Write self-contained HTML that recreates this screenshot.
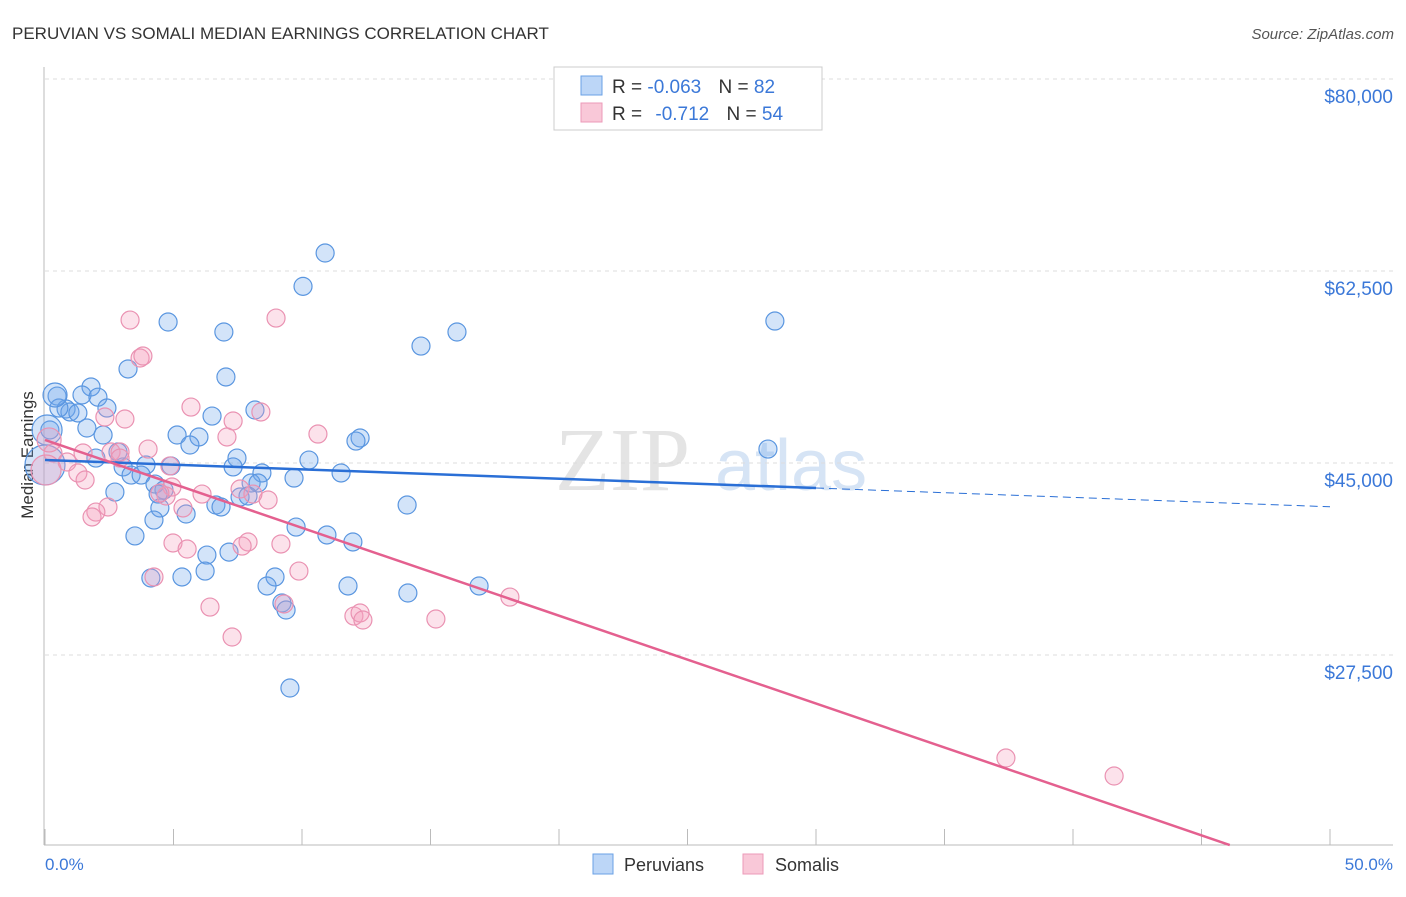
<!DOCTYPE html>
<html><head><meta charset="utf-8"><style>
body{margin:0;background:#fff;font-family:"Liberation Sans",sans-serif}
</style></head><body>
<svg id="chart" width="1406" height="892" xmlns="http://www.w3.org/2000/svg" font-family="Liberation Sans, sans-serif">
<text x="12" y="39" font-size="17" fill="#333">PERUVIAN VS SOMALI MEDIAN EARNINGS CORRELATION CHART</text>
<text x="1394" y="39" font-size="15" fill="#555" font-style="italic" text-anchor="end">Source: ZipAtlas.com</text>
<g><text x="555" y="490" font-size="90" fill="#e4e4e4" font-family="Liberation Serif, serif">ZIP</text><text x="715" y="490" font-size="72" fill="#d6e4f5">atlas</text></g>
<g id="grid"></g>
<line x1="44" y1="67" x2="44" y2="845" stroke="#bbb"/>
<line x1="44" y1="845" x2="1393" y2="845" stroke="#bbb"/>
<text transform="translate(33,455) rotate(-90)" font-size="17" fill="#333" text-anchor="middle">Median Earnings</text>
<text x="45" y="870" font-size="17" fill="#3b78d8">0.0%</text>
<text x="1393" y="870" font-size="17" fill="#3b78d8" text-anchor="end">50.0%</text>
<g id="pts"></g>
<g id="lines"></g>
<g>
<rect x="554" y="67" width="268" height="63" fill="#fff" stroke="#ccc"/>
<rect x="581" y="76" width="21" height="19" fill="#bcd6f7" stroke="#6aa0e6"/>
<rect x="581" y="103" width="21" height="19" fill="#f9c8d8" stroke="#ec9ab8"/>
<text x="612" y="93" font-size="19" fill="#333">R = <tspan fill="#3b78d8">-0.063</tspan>  <tspan dx="12">N = </tspan><tspan fill="#3b78d8">82</tspan></text>
<text x="612" y="120" font-size="19" fill="#333">R = <tspan dx="8" fill="#3b78d8">-0.712</tspan>  <tspan dx="12">N = </tspan><tspan fill="#3b78d8">54</tspan></text>
</g>
<g><rect x="593" y="854" width="20" height="20" fill="#bcd6f7" stroke="#6aa0e6"/><text x="624" y="871" font-size="18" fill="#333">Peruvians</text></g>
<g><rect x="743" y="854" width="20" height="20" fill="#f9c8d8" stroke="#ec9ab8"/><text x="775" y="871" font-size="18" fill="#333">Somalis</text></g>
</svg>
<script>
const yTicks=[80000,62500,45000,27500];
const yTickLabels=["$80,000","$62,500","$45,000","$27,500"];
const xTicks=[0,5,10,15,20,25,30,35,40,45,50];
const bluePct=[10.9,10.04,4.79,6.96,16.03,14.63,28.4,3.23,7.04,1.79,0.47,1.44,2.06,0.82,2.41,0.97,1.28,0.54,8.17,6.5,0.19,1.63,2.26,5.14,5.99,5.64,12.26,12.1,28.13,1.98,2.84,7.47,3.93,3.04,4.9,7.32,8.44,10.27,11.52,9.69,3.35,3.74,4.28,2.72,4.63,4.4,7.59,8.02,8.29,7.9,6.65,6.85,14.09,5.49,4.47,4.24,9.77,10.97,3.5,11.98,6.3,7.16,6.23,5.33,4.12,8.95,8.64,11.79,16.89,14.12,9.22,9.38,9.53,0.0,0.08,0.39];
const blueVal=[64140,61100,57850,56940,56940,55660,57940,53570,52840,51930,51100,51200,51000,49920,50010,49650,49560,50010,49830,49280,48010,48190,47550,47550,47370,46640,47280,47000,46270,45450,46000,45450,44820,44640,44730,44640,44090,45270,44090,43630,43900,43900,43080,42350,42540,42170,41900,43180,43180,41990,41170,40990,41170,40350,40900,39800,39160,38440,38350,37800,36610,36880,35150,34610,34520,34610,33790,33790,33790,33150,32240,31600,24490,44820,48010,51200];
const blueSize=[9,9,9,9,9,9,9,9,9,9,9,9,9,9,9,9,9,9,9,9,9,9,9,9,9,9,9,9,9,9,9,9,9,9,9,9,9,9,9,9,9,9,9,9,9,9,9,9,9,9,9,9,9,9,9,9,9,9,9,9,9,9,9,9,9,9,9,9,9,9,9,9,9,20,15,12];
const pinkPct=[3.31,8.99,3.7,3.81,5.68,8.4,7.32,2.33,3.11,7.08,10.62,4.01,2.57,2.92,1.48,0.31,0.86,4.86,1.28,1.56,4.94,6.11,4.71,4.47,7.59,8.68,8.09,2.92,5.37,2.45,1.98,1.83,4.98,5.53,7.9,7.67,9.18,9.88,4.24,6.42,9.3,12.02,12.26,12.37,15.21,18.09,7.28,37.39,41.6,0.04,0.16];
const pinkVal=[58030,58210,54570,54750,50100,49650,48830,49190,49010,47370,47640,46270,46000,46000,45910,45910,45090,44730,44090,43450,42810,42170,41990,42260,42630,41630,42170,45450,40900,40990,40530,40080,37710,37160,37800,37430,37620,35150,34610,31870,32150,31050,31330,30690,30780,32780,29140,18110,16470,44360,47100];
const pinkSize=[9,9,9,9,9,9,9,9,9,9,9,9,9,9,9,9,9,9,9,9,9,9,9,9,9,9,9,9,9,9,9,9,9,9,9,9,9,9,9,9,9,9,9,9,9,9,9,9,9,15,12];
const blueTrendPct=[0,30,50];
const blueTrendVal=[45270,42720,41010];
const pinkTrendPct=[0,46.1];
const pinkTrendVal=[47100,10180];

const NS="http://www.w3.org/2000/svg";
const X=p=>45+p*25.7;
const Y=v=>79+(80000-v)*192/17500;
function mk(tag,attrs,parent){const e=document.createElementNS(NS,tag);for(const k in attrs)e.setAttribute(k,attrs[k]);parent.appendChild(e);return e;}
const grid=document.getElementById('grid');
yTicks.forEach((t,i)=>{
  const l=mk('line',{x1:45,x2:1393,y1:Y(t),y2:Y(t),stroke:'#ddd','stroke-dasharray':'4,4'},grid);
  
  
  const tx=mk('text',{x:1393,y:Y(t)+24,'font-size':19,fill:'#3b78d8','text-anchor':'end'},grid);
  tx.textContent=yTickLabels[i];
  
  
});
xTicks.forEach(t=>{
  const l=mk('line',{x1:X(t),x2:X(t),y1:829,y2:845,stroke:'#bbb'},grid);
  
  
});
const pts=document.getElementById('pts');
bluePct.forEach((p,i)=>{
  const c=mk('circle',{cx:X(p),cy:Y(blueVal[i]),r:blueSize[i],fill:'rgba(110,165,235,0.3)',stroke:'#5a96e0','stroke-width':1.2},pts);
  
  
});
pinkPct.forEach((p,i)=>{
  const c=mk('circle',{cx:X(p),cy:Y(pinkVal[i]),r:pinkSize[i],fill:'rgba(245,160,190,0.3)',stroke:'#ea92b2','stroke-width':1.2},pts);
  
  
});
const lines=document.getElementById('lines');
const b1=mk('line',{x1:X(blueTrendPct[0]),y1:Y(blueTrendVal[0]),x2:X(blueTrendPct[1]),y2:Y(blueTrendVal[1]),stroke:'#2a6fd6','stroke-width':2.5},lines);


const b2=mk('line',{x1:X(blueTrendPct[1]),y1:Y(blueTrendVal[1]),x2:X(blueTrendPct[2]),y2:Y(blueTrendVal[2]),stroke:'#2a6fd6','stroke-width':1,'stroke-dasharray':'8,5'},lines);


const p1=mk('line',{x1:X(pinkTrendPct[0]),y1:Y(pinkTrendVal[0]),x2:X(pinkTrendPct[1]),y2:Y(pinkTrendVal[1]),stroke:'#e4608f','stroke-width':2.5},lines);


</script>
</body></html>
